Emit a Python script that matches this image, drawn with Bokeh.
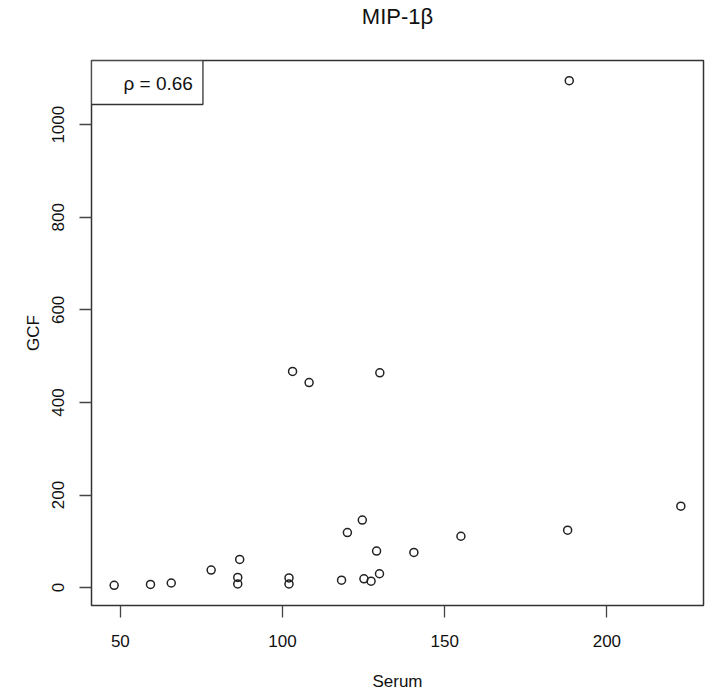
from bokeh.plotting import figure
from bokeh.models import Range1d, FixedTicker, Label, Title
from bokeh.embed import file_html
from bokeh.resources import INLINE

# Data
serum = [48.1, 59.3, 65.7, 78.0, 86.8, 86.2, 86.2, 102.0, 102.0,
         124.6, 120.0, 129.0, 140.5, 155.0, 118.2, 125.1, 127.3, 129.9,
         103.1, 108.2, 130.0, 188.4, 187.9, 222.8]
gcf = [5, 7, 10, 38, 61, 22, 8, 21, 8,
       146, 119, 79, 76, 111, 16, 19, 14, 30,
       467, 443, 464, 1095, 124, 176]
x_ticks = [50, 100, 150, 200]
y_ticks = [0, 200, 400, 600, 800, 1000]
title_text = "MIP-1\u03b2"
x_label = "Serum"
y_label = "GCF"
rho_text = "\u03c1 = 0.66"

FONT = "Liberation Sans"

def padded(vals, frac=0.04):
    lo, hi = min(vals), max(vals)
    r = hi - lo
    return lo - frac * r, hi + frac * r

x0, x1 = padded(serum)
y0, y1 = padded(gcf)

p = figure(width=706, height=694, output_backend="svg", toolbar_location=None,
           x_range=Range1d(x0, x1), y_range=Range1d(y0, y1),
           min_border_left=91, min_border_right=3, min_border_top=60,
           min_border_bottom=89, background_fill_color="white",
           border_fill_color="white")

p.title.visible = False

# spacer between frame and title, then the real title further out
spacer = Title(text=" ", text_font=FONT, text_font_size="21px", standoff=7)
p.add_layout(spacer, "above")
ttl = Title(text=title_text, align="center", text_font=FONT,
            text_font_size="22px", text_font_style="normal",
            text_color="#111111", standoff=0)
p.add_layout(ttl, "above")

p.grid.visible = False
p.outline_line_color = "#333333"
p.outline_line_width = 1.5

for ax in (p.xaxis[0], p.yaxis[0]):
    ax.axis_line_color = None
    ax.major_tick_line_color = "#444444"
    ax.major_tick_line_width = 1.3
    ax.major_tick_in = 0
    ax.major_tick_out = 12
    ax.minor_tick_line_color = None
    ax.major_label_text_font = FONT
    ax.major_label_text_font_size = "17px"
    ax.major_label_text_color = "#111111"
    ax.axis_label_text_font = FONT
    ax.axis_label_text_font_size = "17px"
    ax.axis_label_text_font_style = "normal"
    ax.axis_label_text_color = "#111111"

p.xaxis.ticker = FixedTicker(ticks=x_ticks)
p.yaxis.ticker = FixedTicker(ticks=y_ticks)
p.xaxis.major_label_standoff = 17
p.yaxis.major_label_standoff = 15
p.yaxis.major_label_orientation = "vertical"
p.xaxis.axis_label = x_label
p.yaxis.axis_label = y_label
p.xaxis.axis_label_standoff = 22
p.yaxis.axis_label_standoff = 7

p.scatter(serum, gcf, marker="circle", size=8, fill_color=None,
          line_color="#222222", line_width=1.5)

lab = Label(x=x0, y=y1, x_units="data", y_units="data", text=rho_text,
            anchor="top_left", text_font=FONT, text_font_size="19px",
            text_color="#111111", border_line_color="#333333",
            border_line_width=1.3, background_fill_color="white",
            padding=dict(left=32, right=10, top=12, bottom=11))
p.add_layout(lab)

open("out.html", "w").write(file_html(p, INLINE))
